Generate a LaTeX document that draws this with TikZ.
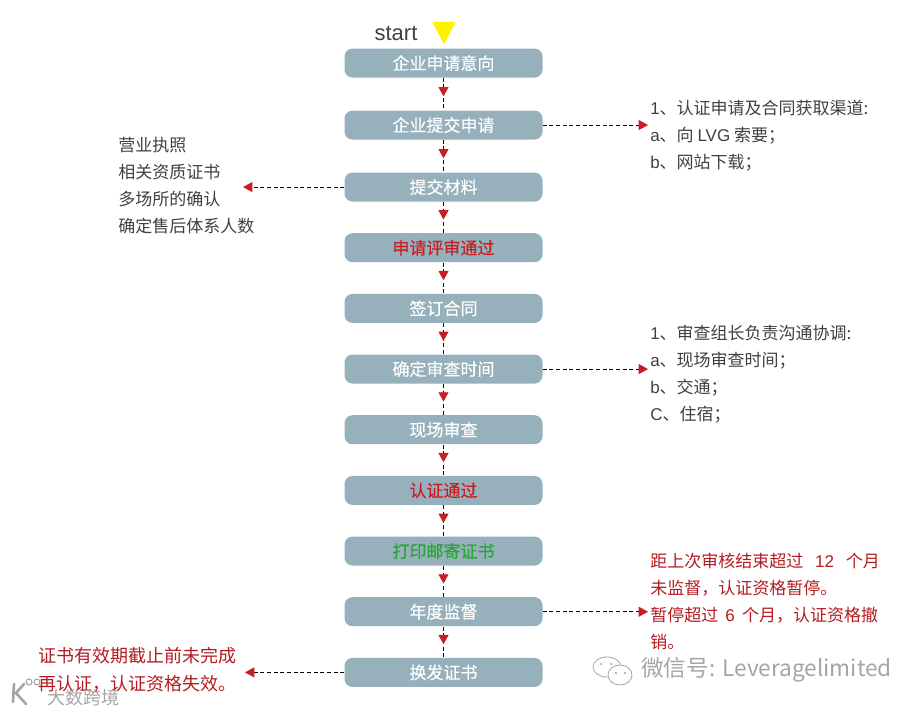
\documentclass[tikz,border=0pt]{standalone}
\usepackage{fontspec}
\setmainfont{Noto Sans CJK SC}
\newfontfamily\latinfont{Liberation Sans}
\newfontfamily\boxfont[FakeBold=0.3]{Noto Sans CJK SC}
\usetikzlibrary{arrows.meta, backgrounds, decorations.markings, matrix, shapes.geometric}
\newcommand{\lGap}[1]{\hspace{#1em}}
\newcommand{\lLat}[1]{{\latinfont #1}}
\newcommand{\lComma}{\symbol{"FF0C}}
\newcommand{\lSemi}{\symbol{"FF1B}}
\newcommand{\lStart}{start}
\newcommand{\lApplyNote}{\lLat{1}、认证申请及合同获取渠道:\\\lLat{a}、向 \lLat{LVG} 索要\lSemi\\\lLat{b}、网站下载\lSemi}
\newcommand{\lFileNote}{营业执照\\相关资质证书\\多场所的确认\\确定售后体系人数}
\newcommand{\lTimeNote}{\lLat{1}、审查组长负责沟通协调:\\\lLat{a}、现场审查时间\lSemi\\\lLat{b}、交通\lSemi\\\lLat{C}、住宿\lSemi}
\newcommand{\lSuperviseNote}{距上次审核结束超过\lGap{.7}\lLat{12}\lGap{.7}个月\\未监督\lComma 认证资格暂停。\\暂停超过\lGap{.42}\lLat{6}\lGap{.42}个月\lComma 认证资格撤\\销。}
\newcommand{\lRenewNote}{证书有效期截止前未完成\\再认证\lComma 认证资格失效。}
\definecolor{boxBlue}{RGB}{150, 176, 188}
\definecolor{flowRed}{RGB}{200, 30, 35}
\definecolor{flowGreen}{RGB}{40, 165, 50}
\definecolor{noteGrey}{RGB}{64, 64, 64}
\definecolor{markGrey}{RGB}{165, 165, 165}
\tikzset{flowtip/.tip={Triangle[flowRed, length=7pt, width=7.5pt]}}

\begin{document}
\begin{tikzpicture} [
        x=.75pt, y=-.75pt,
        note/.style={align=left, inner sep=0, anchor=west, text=noteGrey,
            font=\fontsize{12.75}{20.25}\selectfont},
        rednote/.style={note, text=flowRed!90!black},
        flow/.style={dash pattern=on 3pt off 2pt, line width=.7pt, postaction={decorate},
            decoration={markings, mark=at position .57 with {\arrow{flowtip}}}},
        side/.style={dash pattern=on 3pt off 2pt, line width=.7pt, -{flowtip}}
    ]

\useasboundingbox (0,0) rectangle (923,713);

\matrix [
   matrix of nodes, inner sep=0,
   row sep=23.75pt, anchor=north, at={(443.5,48.3)},
   nodes={fill=boxBlue, text=white, rounded corners=6pt, text width=148.5pt,
          align=center, minimum height=21.75pt, inner sep=0, anchor=center,
          font=\boxfont\fontsize{12.75}{14}\selectfont},
   row 4/.style= {nodes={text=flowRed}},
   row 8/.style= {nodes={text=flowRed}},
   row 9/.style= {nodes={text=flowGreen}},
  ] (m)
  {
    企业申请意向 \\[1pt]
    企业提交申请 \\[1pt]
    提交材料 \\
    申请评审通过 \\
    签订合同 \\
    确定审查时间 \\
    现场审查 \\
    认证通过 \\
    打印邮寄证书 \\
    年度监督 \\
    换发证书 \\
  };

    \node[font=\latinfont\fontsize{16.5}{18}\selectfont, text=noteGrey, inner sep=0] (start) at (396,33) {\lStart};
    \node[isosceles triangle, isosceles triangle apex angle=55, shape border rotate=-90, fill=yellow,
        minimum height=17pt, inner sep=0, anchor=apex] (entry) at (444,45) {};

    \begin{scope}[on background layer]
    \foreach \i [evaluate=\i as \j using int(\i+1)] in {1, ..., 10} {
        \draw[flow] (m-\i-1) -- (m-\j-1);
    }
    \end{scope}

    \node[note] (apply note) at (650,136) {\lApplyNote};
    \node[note] (file note) at (118,186) {\lFileNote};
    \node[note] (time note) at (650,374.5) {\lTimeNote};
    \node[rednote] (supervise note) at (650,601.5) {\lSuperviseNote};
    \node[rednote, font=\fontsize{13.5}{21}\selectfont] (renew note) at (38,670) {\lRenewNote};

    \coordinate (right end) at (648,0);
    \coordinate (file end) at (243,0);
    \coordinate (renew end) at (245,0);

    \draw[side] (m-2-1.east) -- (m-2-1.east -| right end);
    \draw[side] (m-3-1.west) -- (m-3-1.west -| file end);
    \draw[side] (m-6-1.east) -- (m-6-1.east -| right end);
    \draw[side] (m-10-1.east) -- (m-10-1.east -| right end);
    \draw[side] (m-11-1.west) -- (m-11-1.west -| renew end);

    % watermarks
    \node[text=markGrey, inner sep=0, anchor=west, font=\fontsize{17}{18}\selectfont] (wechat mark) at (641,670) {微信号: Leveragelimited};
    \node[text=markGrey, inner sep=0, anchor=west, font=\fontsize{13.5}{14}\selectfont] (site mark) at (47,698) {大数跨境};
    \draw[markGrey, line width=.6pt] (607,667) ellipse (14 and 10);
    \draw[markGrey, line width=.6pt, fill=white] (620,675) ellipse (12 and 10);
    \fill[markGrey] (601,664) circle (1.2) (611,664) circle (1.2) (616,673) circle (1.2) (625,673) circle (1.2);
    \draw[markGrey, line width=2pt, line cap=round] (14,684) -- (13,702) (24,684) -- (16,693) -- (26,704);
    \draw[markGrey, line width=.8pt] (29,682) circle (3) (37,682) circle (3);
\end{tikzpicture}
\end{document}
